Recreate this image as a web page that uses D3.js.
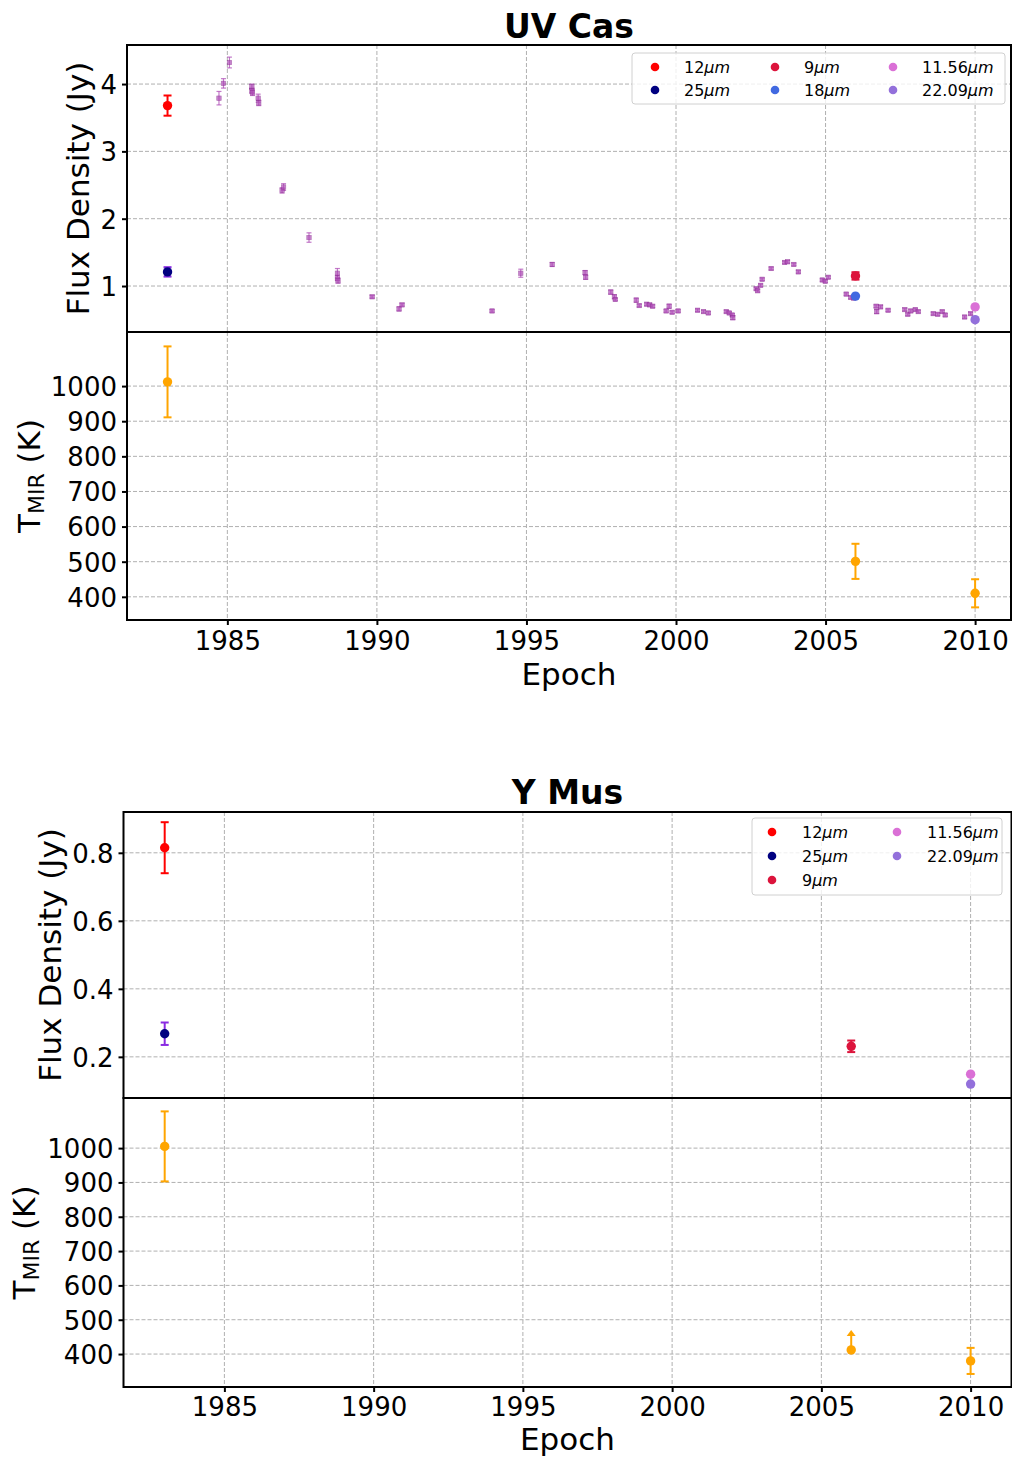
<!DOCTYPE html>
<html>
<head>
<meta charset="utf-8">
<script src="https://cdn.jsdelivr.net/npm/d3@7"></script>
<style>
  body { margin: 0; background: #fff; }
  svg { font-family: "DejaVu Sans", sans-serif; }
</style>
</head>
<body>
<div id="chart"></div>
<script>
// UV Cas, monitoring points (small purple)
const uvEpoch = [1984.72, 1984.87, 1985.07, 1985.82, 1985.82, 1985.84, 1986.03, 1986.05,
  1986.83, 1986.88, 1987.73, 1988.68, 1988.68, 1988.70, 1989.84, 1990.74, 1990.84,
  1993.85, 1994.81, 1995.86, 1996.96, 1996.98, 1997.82, 1997.94, 1997.97, 1998.67, 1998.77,
  1999.02, 1999.12, 1999.22, 1999.67, 1999.77, 1999.87, 2000.07, 2000.72, 2000.92, 2001.08,
  2001.68, 2001.78, 2001.88, 2001.90, 2002.68, 2002.73, 2002.83, 2002.88, 2003.18, 2003.63,
  2003.73, 2003.94, 2004.09, 2004.89, 2004.99, 2005.09, 2005.69, 2005.84, 2005.94,
  2006.69, 2006.84, 2006.71, 2007.09, 2007.65, 2007.75, 2007.85, 2008.0, 2008.1,
  2008.6, 2008.75, 2008.9, 2009.0, 2009.65, 2009.85];
const uvFlux = [3.79, 4.01, 4.32, 3.96, 3.9, 3.87, 3.79, 3.72,
  2.42, 2.47, 1.72, 1.19, 1.12, 1.08, 0.84, 0.66, 0.72,
  0.63, 1.19, 1.32, 1.2, 1.13, 0.91, 0.84, 0.8, 0.79, 0.71,
  0.73, 0.72, 0.7, 0.63, 0.7, 0.61, 0.63, 0.64, 0.62, 0.6,
  0.62, 0.6, 0.57, 0.53, 0.96, 0.93, 1.01, 1.1, 1.26, 1.35,
  1.36, 1.32, 1.21, 1.09, 1.07, 1.13, 0.88, 0.83, 0.82,
  0.7, 0.69, 0.62, 0.64, 0.65, 0.58, 0.63, 0.65, 0.62,
  0.59, 0.58, 0.62, 0.57, 0.54, 0.59];
const uvFluxErr = [0.1, 0.07, 0.08, 0.04, 0.04, 0.04, 0.06, 0.04,
  0.04, 0.05, 0.07, 0.07, 0.04, 0.04, 0.02, 0.03, 0.02,
  0.02, 0.06, 0.03, 0.03, 0.03, 0.03, 0.03, 0.02, 0.03, 0.02,
  0.02, 0.02, 0.02, 0.02, 0.03, 0.02, 0.02, 0.02, 0.02, 0.02,
  0.02, 0.02, 0.02, 0.03, 0.02, 0.02, 0.02, 0.02, 0.02, 0.02,
  0.02, 0.02, 0.02, 0.02, 0.02, 0.02, 0.02, 0.02, 0.02,
  0.02, 0.02, 0.03, 0.02, 0.02, 0.02, 0.02, 0.02, 0.02,
  0.02, 0.02, 0.02, 0.02, 0.02, 0.02];

// UV Cas, band photometry
const uvBands = [
  { name: "12", color: "red", epoch: 1983.0, flux: 3.68, err: 0.15, errColor: "red" },
  { name: "25", color: "navy", epoch: 1983.0, flux: 1.21, err: 0.07, errColor: "#8a2be2" },
  { name: "9", color: "crimson", epoch: 2006.0, flux: 1.15, err: 0.055, errColor: "crimson" },
  { name: "18", color: "royalblue", epoch: 2006.0, flux: 0.85, err: 0, errColor: "royalblue" },
  { name: "11.56", color: "orchid", epoch: 2010.0, flux: 0.69, err: 0, errColor: "orchid" },
  { name: "22.09", color: "mediumpurple", epoch: 2010.0, flux: 0.50, err: 0, errColor: "mediumpurple" }
];
const uvTEpoch = [1983.0, 2006.0, 2010.0];
const uvTemp = [1012, 501, 410];
const uvTempErr = [101, 50, 40];
const uvTempLower = [false, false, false];

// Y Mus
const ymBands = [
  { name: "12", color: "red", epoch: 1983.0, flux: 0.815, err: 0.075, errColor: "red" },
  { name: "25", color: "navy", epoch: 1983.0, flux: 0.268, err: 0.033, errColor: "#8a2be2" },
  { name: "9", color: "crimson", epoch: 2006.0, flux: 0.231, err: 0.017, errColor: "crimson" },
  { name: "11.56", color: "orchid", epoch: 2010.0, flux: 0.149, err: 0, errColor: "orchid" },
  { name: "22.09", color: "mediumpurple", epoch: 2010.0, flux: 0.12, err: 0, errColor: "mediumpurple" }
];
const ymTEpoch = [1983.0, 2006.0, 2010.0];
const ymTemp = [1005, 412, 380];
const ymTempErr = [102, 0, 38];
const ymTempLower = [false, true, false];

const xTicks = [1985, 1990, 1995, 2000, 2005, 2010];

const svg = d3.select("#chart").append("svg")
  .attr("width", 1012).attr("height", 1457);

function drawGrid(g, x, y, yTicks, top, bottom, left, right) {
  g.selectAll(".gx").data(xTicks).enter().append("line")
    .attr("x1", d => x(d)).attr("x2", d => x(d))
    .attr("y1", top).attr("y2", bottom)
    .attr("stroke", "#b0b0b0").attr("stroke-dasharray", "4,2").attr("stroke-width", 1);
  g.selectAll(".gy").data(yTicks).enter().append("line")
    .attr("x1", left).attr("x2", right)
    .attr("y1", d => y(d)).attr("y2", d => y(d))
    .attr("stroke", "#b0b0b0").attr("stroke-dasharray", "4,2").attr("stroke-width", 1);
}

function errBar(g, x, y, xv, yv, e, color, cap, width, opacity) {
  if (!e) return;
  g.append("line").attr("x1", x(xv)).attr("x2", x(xv))
    .attr("y1", y(yv - e)).attr("y2", y(yv + e))
    .attr("stroke", color).attr("stroke-width", width).attr("opacity", opacity);
  [yv - e, yv + e].forEach(v => {
    g.append("line").attr("x1", x(xv) - cap).attr("x2", x(xv) + cap)
      .attr("y1", y(v)).attr("y2", y(v))
      .attr("stroke", color).attr("stroke-width", width).attr("opacity", opacity);
  });
}

function styleAxis(a) {
  a.selectAll("path").remove();
  a.selectAll("line").attr("stroke", "#000").attr("stroke-width", 2);
  a.selectAll("text").attr("font-size", 26).attr("fill", "#000")
    .attr("font-family", "DejaVu Sans, sans-serif");
}

function drawFigure(c) {
  const x = d3.scaleLinear().domain(c.xDomain).range([c.left, c.right]);
  const yF = d3.scaleLinear().domain(c.fluxDomain).range([c.mid, c.top]);
  const yT = d3.scaleLinear().domain(c.tDomain).range([c.bottom, c.mid]);
  const tTicks = [400, 500, 600, 700, 800, 900, 1000];

  const g = svg.append("g");
  drawGrid(g, x, yF, c.fluxTicks, c.top, c.mid, c.left, c.right);
  drawGrid(g, x, yT, tTicks, c.mid, c.bottom, c.left, c.right);

  // small monitoring points
  if (c.monEpoch) {
    const mg = g.append("g");
    c.monEpoch.forEach((ep, i) => {
      errBar(mg, x, yF, ep, c.monFlux[i], c.monErr[i], "#b04fb8", 2.5, 1.2, 0.75);
    });
    mg.selectAll("rect").data(c.monEpoch).enter().append("rect")
      .attr("x", d => x(d) - 2.2).attr("y", (d, i) => yF(c.monFlux[i]) - 2.2)
      .attr("width", 4.4).attr("height", 4.4)
      .attr("fill", "#b04fb8").attr("opacity", 0.7)
      .attr("stroke", "#8a2a90").attr("stroke-width", 0.6);
  }

  // band photometry
  c.bands.forEach(b => {
    errBar(g, x, yF, b.epoch, b.flux, b.err, b.errColor, 4, 2, 1);
    g.append("circle").attr("cx", x(b.epoch)).attr("cy", yF(b.flux))
      .attr("r", 4.7).attr("fill", b.color);
  });

  // temperature
  c.tEpoch.forEach((ep, i) => {
    if (c.tLower[i]) {
      const y0 = yT(c.temp[i]), y1 = yT(c.temp[i] + 58);
      g.append("line").attr("x1", x(ep)).attr("x2", x(ep))
        .attr("y1", y0).attr("y2", y1 + 4)
        .attr("stroke", "orange").attr("stroke-width", 2);
      g.append("path")
        .attr("d", `M${x(ep) - 4.5},${y1 + 6} L${x(ep)},${y1} L${x(ep) + 4.5},${y1 + 6} Z`)
        .attr("fill", "orange");
    } else {
      errBar(g, x, yT, ep, c.temp[i], c.tErr[i], "orange", 4, 2, 1);
    }
    g.append("circle").attr("cx", x(ep)).attr("cy", yT(c.temp[i]))
      .attr("r", 4.7).attr("fill", "orange");
  });

  // axes
  const ayF = svg.append("g").attr("transform", `translate(${c.left},0)`)
    .call(d3.axisLeft(yF).tickValues(c.fluxTicks).tickSize(5).tickPadding(5)
      .tickFormat(c.fluxFmt));
  styleAxis(ayF);
  ayF.selectAll("text").attr("dy", "0.36em");
  const ayT = svg.append("g").attr("transform", `translate(${c.left},0)`)
    .call(d3.axisLeft(yT).tickValues(tTicks).tickSize(5).tickPadding(5).tickFormat(d3.format("d")));
  styleAxis(ayT);
  ayT.selectAll("text").attr("dy", "0.36em");
  const ax = svg.append("g").attr("transform", `translate(0,${c.bottom})`)
    .call(d3.axisBottom(x).tickValues(xTicks).tickSize(5).tickPadding(c.xPad).tickFormat(d3.format("d")));
  styleAxis(ax);

  // frames
  [[c.top, c.mid], [c.mid, c.bottom]].forEach(([t, b]) => {
    svg.append("rect").attr("x", c.left).attr("y", t)
      .attr("width", c.right - c.left).attr("height", b - t)
      .attr("fill", "none").attr("stroke", "#000").attr("stroke-width", 2);
  });

  // legend
  const lg = svg.append("g");
  lg.append("rect").attr("x", c.legend.x).attr("y", c.legend.y)
    .attr("width", c.legend.w).attr("height", c.legend.h).attr("rx", 3)
    .attr("fill", "#fff").attr("fill-opacity", 0.8)
    .attr("stroke", "#d0d0d0").attr("stroke-width", 1);
  c.legend.order.forEach((name, i) => {
    const b = c.bands.find(d => d.name === name);
    const col = Math.floor(i / c.legend.rows), row = i % c.legend.rows;
    const mx = c.legend.colX[col], my = c.legend.y + 14 + row * c.legend.dy;
    lg.append("circle").attr("cx", mx).attr("cy", my).attr("r", 4.3).attr("fill", b.color);
    const t = lg.append("text").attr("x", mx + c.legend.gap).attr("y", my + 5.5)
      .attr("font-size", 16).attr("fill", "#000");
    t.append("tspan").text(name);
    t.append("tspan").attr("font-style", "italic").text("\u03bcm");
  });

  // labels
  svg.append("text").attr("x", (c.left + c.right) / 2).attr("y", c.titleY)
    .attr("text-anchor", "middle").attr("font-size", 33).attr("font-weight", "bold")
    .text(c.title);
  svg.append("text").attr("x", (c.left + c.right) / 2).attr("y", c.epochY)
    .attr("text-anchor", "middle").attr("font-size", 31).text("Epoch");
  svg.append("text")
    .attr("transform", `translate(${c.fluxLabelX},${(c.top + c.mid) / 2}) rotate(-90)`)
    .attr("text-anchor", "middle").attr("font-size", 31).text("Flux Density (Jy)");
  const tl = svg.append("text")
    .attr("transform", `translate(${c.tLabelX},${(c.mid + c.bottom) / 2}) rotate(-90)`)
    .attr("text-anchor", "middle").attr("font-size", 31);
  tl.append("tspan").text("T");
  tl.append("tspan").attr("font-size", 22).attr("dy", 4).text("MIR");
  tl.append("tspan").attr("dy", -4).text(" (K)");
}

drawFigure({
  title: "UV Cas", titleY: 38, epochY: 685, xPad: 7,
  left: 127, right: 1011, top: 45, mid: 332, bottom: 620,
  xDomain: [1981.645, 2011.2],
  fluxDomain: [0.317, 4.58], fluxTicks: [1, 2, 3, 4], fluxFmt: d3.format("d"),
  tDomain: [334, 1154],
  monEpoch: uvEpoch, monFlux: uvFlux, monErr: uvFluxErr,
  bands: uvBands,
  tEpoch: uvTEpoch, temp: uvTemp, tErr: uvTempErr, tLower: uvTempLower,
  fluxLabelX: 89, tLabelX: 40,
  legend: { x: 632, y: 53, w: 373, h: 51, rows: 2, dy: 23,
    colX: [655, 775, 893], gap: 29,
    order: ["12", "25", "9", "18", "11.56", "22.09"] }
});

drawFigure({
  title: "Y Mus", titleY: 804, epochY: 1450, xPad: 6,
  left: 123.5, right: 1011.5, top: 812, mid: 1098, bottom: 1387,
  xDomain: [1981.62, 2011.37],
  fluxDomain: [0.079, 0.92], fluxTicks: [0.2, 0.4, 0.6, 0.8], fluxFmt: d3.format(".1f"),
  tDomain: [304, 1146],
  bands: ymBands,
  tEpoch: ymTEpoch, temp: ymTemp, tErr: ymTempErr, tLower: ymTempLower,
  fluxLabelX: 61, tLabelX: 35,
  legend: { x: 752, y: 818, w: 250, h: 77, rows: 3, dy: 24,
    colX: [772, 897], gap: 30,
    order: ["12", "25", "9", "11.56", "22.09"] }
});
</script>
</body>
</html>
